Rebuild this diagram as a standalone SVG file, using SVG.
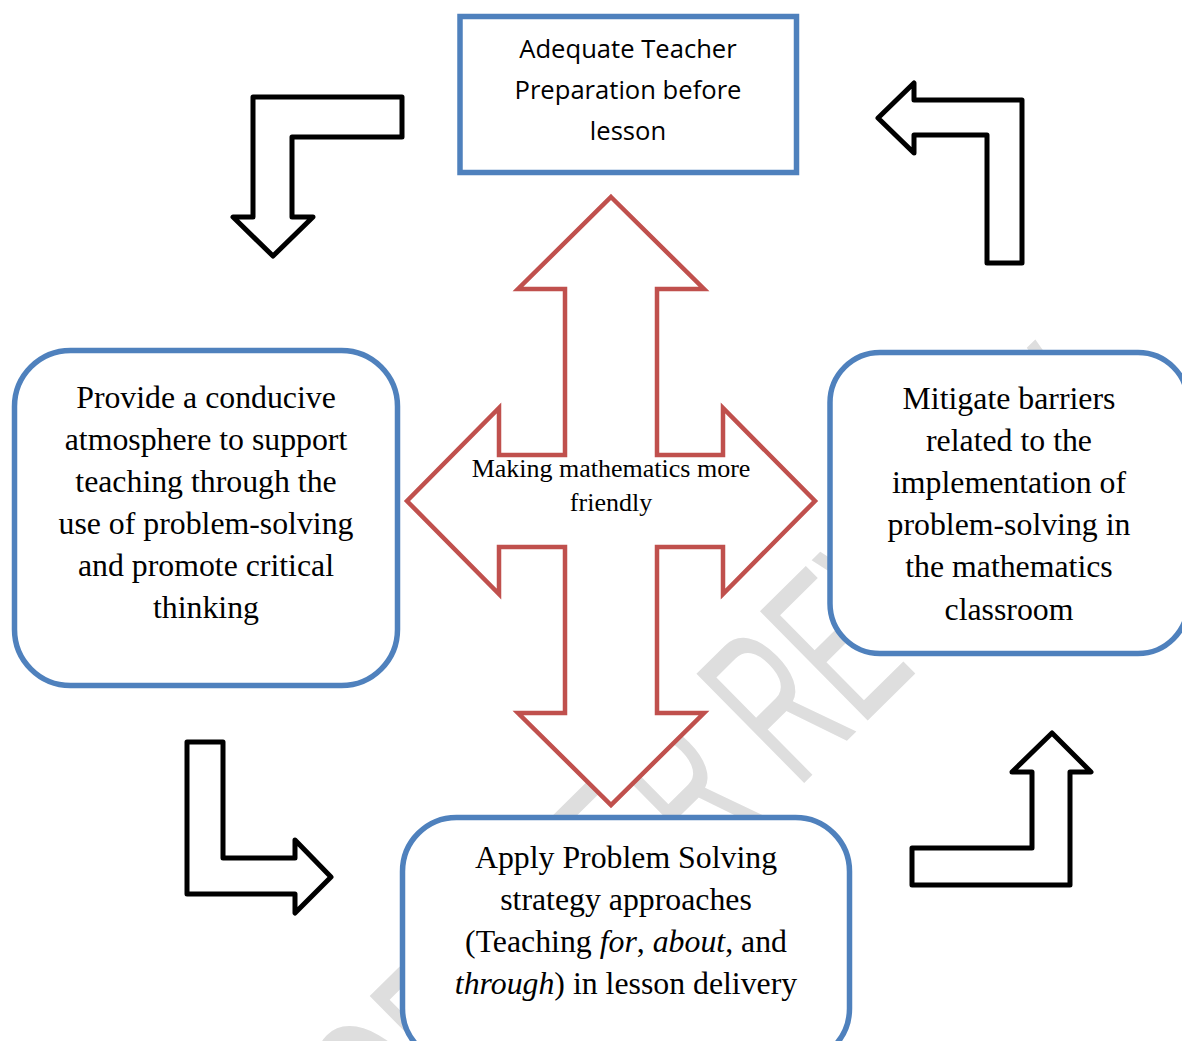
<svg xmlns="http://www.w3.org/2000/svg" width="1182" height="1041" viewBox="0 0 1182 1041">
  <style>
    .box { fill: #ffffff; stroke: #4F81BD; stroke-width: 5.5; }
    .bent { fill: #ffffff; stroke: #000000; stroke-width: 5; stroke-linejoin: round; }
    .quad { fill: #ffffff; stroke: #C0504D; stroke-width: 4.5; stroke-linejoin: miter; }
    .sans { font-family: "Open Sans", "Liberation Sans", sans-serif; font-size: 25.6px; fill: #000; text-anchor: middle; }
    .serif { font-family: "Liberation Serif", "Times New Roman", serif; font-size: 31.8px; fill: #000; text-anchor: middle; }
    .center { font-family: "Liberation Serif", "Times New Roman", serif; font-size: 26px; fill: #000; text-anchor: middle; }
    .wm { font-family: "Liberation Sans", Arial, sans-serif; font-size: 223px; fill: #dedede; }
  </style>

  <rect x="0" y="0" width="1182" height="1041" fill="#ffffff"/>

  <g id="watermark" transform="translate(797,790) rotate(-44.6) scale(0.553,1)">
    <text class="wm" x="-669" y="0" text-anchor="end">FOR </text>
    <text class="wm" x="-669" y="0">PEER REVIEW</text>
  </g>

  <g id="connectors">
    <path class="bent" d="M253,97 L402,97 L402,137 L292,137 L292,217 L313,217 L273,256 L233,217 L253,217 Z"/>
    <path class="bent" d="M878,118 L914,83 L914,100 L1022,100 L1022,263 L987,263 L987,135 L914,135 L914,153 Z"/>
    <path class="bent" d="M187,742 L223,742 L223,858 L295,858 L295,840 L331,877 L295,913 L295,894 L187,894 Z"/>
    <path class="bent" d="M1052,733 L1091,772 L1070,772 L1070,885 L912,885 L912,848 L1032,848 L1032,772 L1012,772 Z"/>
  </g>

  <g id="center-node">
    <path class="quad" d="M611,197 L704,289 L657,289 L657,455 L723,455 L723,408 L815,501 L723,594 L723,547 L657,547 L657,713 L704,713 L611,805 L518,713 L565,713 L565,547 L499,547 L499,594 L407,501 L499,408 L499,455 L565,455 L565,289 L518,289 Z"/>
    <text class="center" x="611" y="477">Making mathematics more</text>
    <text class="center" x="611" y="511">friendly</text>
  </g>

  <g id="node-top">
    <rect class="box" x="460" y="16.5" width="336.5" height="156"/>
    <text class="sans" x="628" y="58">Adequate Teacher</text>
    <text class="sans" x="628" y="99">Preparation before</text>
    <text class="sans" x="628" y="140">lesson</text>
  </g>

  <g id="node-left">
    <rect class="box" x="14.5" y="350.5" width="383" height="335" rx="56" ry="56"/>
    <text class="serif" x="206" y="408">Provide a conducive</text>
    <text class="serif" x="206" y="450">atmosphere to support</text>
    <text class="serif" x="206" y="492">teaching through the</text>
    <text class="serif" x="206" y="534">use of problem-solving</text>
    <text class="serif" x="206" y="576">and promote critical</text>
    <text class="serif" x="206" y="618">thinking</text>
  </g>

  <g id="node-right">
    <rect class="box" x="830" y="352.5" width="358" height="301" rx="50" ry="50"/>
    <text class="serif" x="1009" y="409">Mitigate barriers</text>
    <text class="serif" x="1009" y="451">related to the</text>
    <text class="serif" x="1009" y="493">implementation of</text>
    <text class="serif" x="1009" y="535">problem-solving in</text>
    <text class="serif" x="1009" y="577">the mathematics</text>
    <text class="serif" x="1009" y="620">classroom</text>
  </g>

  <g id="node-bottom">
    <rect class="box" x="402.5" y="817.5" width="447" height="245" rx="54" ry="54"/>
    <text class="serif" x="626" y="867.5">Apply Problem Solving</text>
    <text class="serif" x="626" y="909.8">strategy approaches</text>
    <text class="serif" x="626" y="952.1">(Teaching <tspan font-style="italic">for</tspan>, <tspan font-style="italic">about</tspan>, and</text>
    <text class="serif" x="626" y="994.4"><tspan font-style="italic">through</tspan>) in lesson delivery</text>
  </g>
</svg>
